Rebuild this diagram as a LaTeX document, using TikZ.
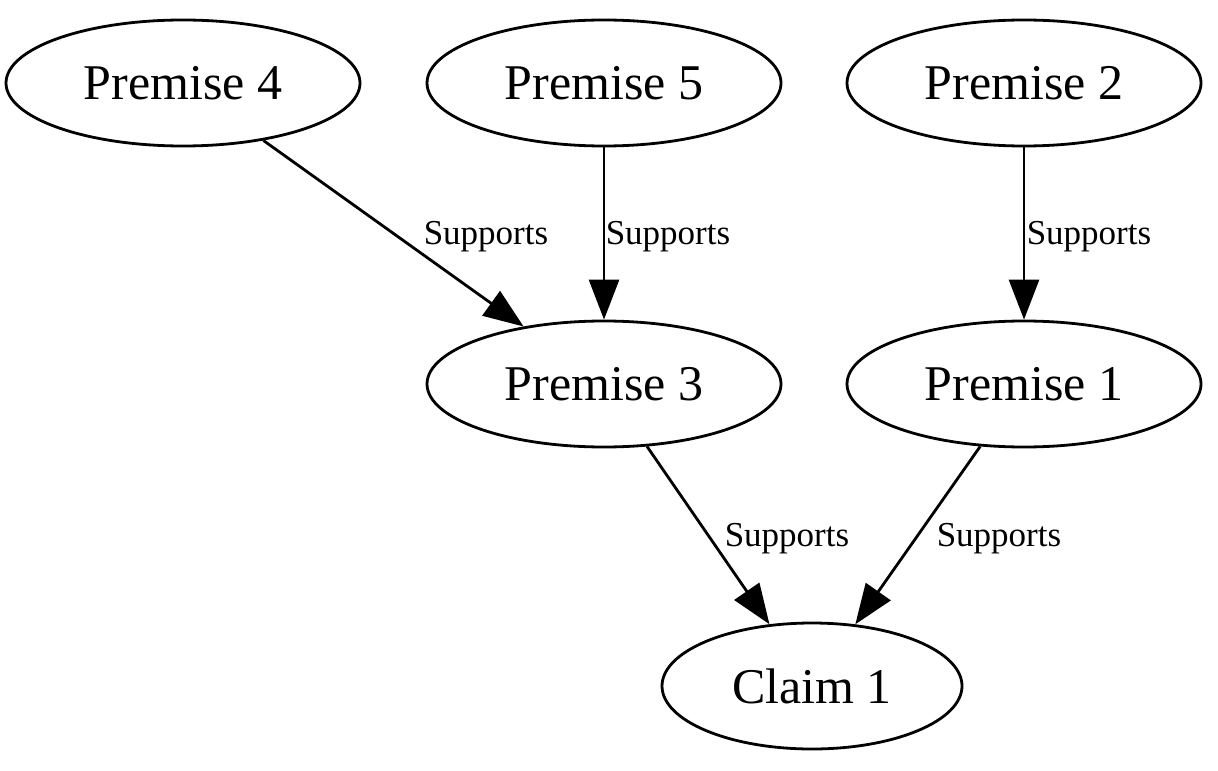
\documentclass[tikz,border=0pt]{standalone}
\usepackage{fontspec}
\setmainfont{Liberation Serif}
\usetikzlibrary{shapes.geometric,arrows.meta}
\begin{document}
\begin{tikzpicture}[x=0.5pt,y=-0.5pt,
  premise/.style={draw,ellipse,line width=1.4pt,minimum width=177pt,minimum height=63pt,inner sep=0pt,font=\fontsize{25}{30}\selectfont},
  claimbox/.style={premise,minimum width=150pt},
  support/.style={line width=1.4pt,-{Triangle[length=20pt,width=15pt]}},
  lbl/.style={font=\fontsize{17.5}{21}\selectfont,inner sep=0pt}]
\useasboundingbox (0,0) rectangle (1218,770);
\node[premise] (p4) at (183,83) {Premise 4};
\node[premise] (p5) at (604,83) {Premise 5};
\node[premise] (p2) at (1024,83) {Premise 2};
\node[premise] (p3) at (604,384) {Premise 3};
\node[premise] (p1) at (1024,384) {Premise 1};
\node[claimbox] (c1) at (812,686) {Claim 1};
\draw[support] (p4) -- (p3);
\draw[support] (p5) -- (p3);
\draw[support] (p2) -- (p1);
\draw[support] (p3) -- (c1);
\draw[support] (p1) -- (c1);
\node[lbl] (l1) at (486,237) {Supports};
\node[lbl] (l2) at (668,237) {Supports};
\node[lbl] (l3) at (1089,237) {Supports};
\node[lbl] (l4) at (787,539) {Supports};
\node[lbl] (l5) at (999,539) {Supports};
\end{tikzpicture}
\end{document}
